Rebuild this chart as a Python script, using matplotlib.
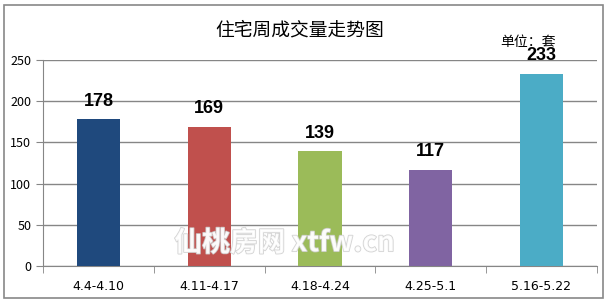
import matplotlib.pyplot as plt
import matplotlib.patheffects as pe
from matplotlib.patches import Rectangle

plt.rcParams['font.family'] = ['Noto Sans CJK SC', 'DejaVu Sans']

# data
weeks = ['4.4-4.10', '4.11-4.17', '4.18-4.24', '4.25-5.1', '5.16-5.22']
volumes = [178, 169, 139, 117, 233]
colors = ['#1F497D', '#C0504D', '#9BBB59', '#8064A2', '#4BACC6']

fig = plt.figure(figsize=(6.12, 3.04), dpi=100)
fig.patches.append(Rectangle((0.007, 0.02), 0.979, 0.963, transform=fig.transFigure,
                             fill=False, edgecolor='#888888', linewidth=1.2))

ax = fig.add_axes([0.0703, 0.125, 0.905, 0.678])
x = list(range(len(weeks)))
ax.bar(x, volumes, width=0.39, color=colors, zorder=3)

# value labels above bars
for i, v in enumerate(volumes):
    ax.annotate(str(v), (i, v), xytext=(0, 7), textcoords='offset points',
                ha='center', va='bottom', fontsize=13, fontweight='bold',
                family='Liberation Sans', zorder=5)

ax.set_xlim(-0.5, len(weeks) - 0.5)
ax.set_ylim(0, 250)
ax.set_yticks(range(0, 251, 50))
ax.grid(axis='y', color='#868686', linewidth=1, zorder=0)

ax.set_xticks(x)
ax.set_xticklabels(weeks, fontsize=9, family='DejaVu Sans')
ax.set_xticks([i + 0.5 for i in range(-1, len(weeks))], minor=True)
ax.tick_params(axis='x', which='major', length=0, pad=10)
ax.tick_params(axis='x', which='minor', length=5, color='#868686')
ax.tick_params(axis='y', length=5, color='#868686', labelsize=9)

for s in ['top', 'right']:
    ax.spines[s].set_visible(False)
ax.spines['left'].set_color('#868686')
ax.spines['bottom'].set_color('#868686')

fig.text(0.49, 0.9, '住宅周成交量走势图', ha='center', va='center', fontsize=13.5)
fig.text(0.863, 0.862, '单位：套', ha='center', va='center', fontsize=10)

# watermark
wm = fig.text(0.465, 0.2, '仙桃房网 xtfw.cn', ha='center', va='center', fontsize=20,
              fontweight='bold', color='white', alpha=0.85, zorder=10)
wm.set_path_effects([pe.Stroke(linewidth=1.2, foreground='#cccccc'), pe.Normal()])

fig.savefig('out.png', dpi=100)
